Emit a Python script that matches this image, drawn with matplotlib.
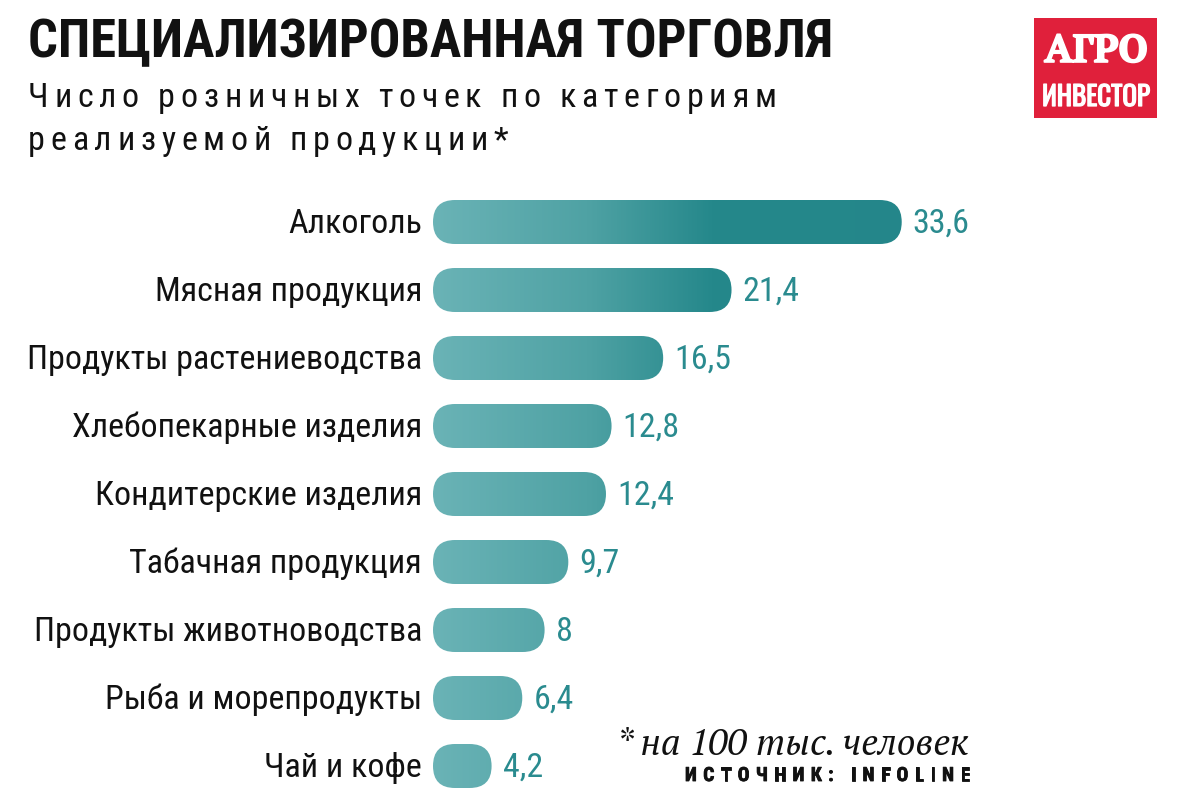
import matplotlib
matplotlib.use("Agg")
import matplotlib.pyplot as plt
import matplotlib.patheffects as pe
import numpy as np
from matplotlib import font_manager as fm
from matplotlib.patches import FancyBboxPatch, Rectangle
from matplotlib.colors import LinearSegmentedColormap
from matplotlib.transforms import offset_copy
from matplotlib.ft2font import LOAD_NO_HINTING

# ---------------- data ----------------
categories = ["Алкоголь", "Мясная продукция", "Продукты растениеводства",
              "Хлебопекарные изделия", "Кондитерские изделия", "Табачная продукция",
              "Продукты животноводства", "Рыба и морепродукты", "Чай и кофе"]
values = [33.6, 21.4, 16.5, 12.8, 12.4, 9.7, 8.0, 6.4, 4.2]

title = "СПЕЦИАЛИЗИРОВАННАЯ ТОРГОВЛЯ"
subtitle_lines = ["Число розничных точек по категориям", "реализуемой продукции*"]
footnote = "* на 100 тыс. человек"
source = "ИСТОЧНИК: INFOLINE"
logo_top = "АГРО"
logo_bottom = "ИНВЕСТОР"

# ---------------- fonts ----------------
available = {f.name for f in fm.fontManager.ttflist}
def pick(cands):
    for c in cands:
        if c in available:
            return c
    return "DejaVu Sans"

COND = pick(["Roboto Condensed", "Fira Sans Extra Condensed", "IBM Plex Sans Condensed",
             "PT Sans Narrow", "Open Sans Condensed", "DejaVu Sans"])
TIGHT = pick(["Oswald", "Fira Sans Extra Condensed", "Roboto Condensed", "PT Sans Narrow"])
SLAB = pick(["PT Serif", "Liberation Serif", "DejaVu Serif"])
SERIF_IT = pick(["PT Serif", "Liberation Serif", "DejaVu Serif"])

W, H = 1179, 812
fig = plt.figure(figsize=(W / 100, H / 100), dpi=100)
fig.patch.set_facecolor("white")

def fx(px):
    return px / W
def fy(py):
    return 1 - py / H

def advance(ch, prop):
    font = fm.get_font(fm.findfont(prop))
    font.set_size(prop.get_size_in_points(), fig.dpi)
    g = font.load_char(ord(ch), flags=LOAD_NO_HINTING)
    return g.linearHoriAdvance / 65536.0

def tracked(text, x0, y0, prop, color, x_end=None, tracking=0.0, effects=None):
    advs = [advance(c, prop) for c in text]
    if x_end is not None:
        tracking = (x_end - x0 - sum(advs)) / (len(text) - 1)
    x = x0
    for c, a in zip(text, advs):
        if c != " ":
            t = fig.text(fx(x), fy(y0), c, fontproperties=prop, color=color,
                         ha="left", va="baseline")
            if effects:
                t.set_path_effects(effects)
        x += a + tracking

# ---------------- title ----------------
tprop = fm.FontProperties(family=COND, weight="bold", size=37.8)
fig.text(fx(28), fy(57), title, fontproperties=tprop, color="#111111",
         ha="left", va="baseline")

sprop = fm.FontProperties(family=COND, weight="normal", size=24.5)
advs1 = [advance(c, sprop) for c in subtitle_lines[0]]
trk = (776 - 28 - sum(advs1)) / (len(subtitle_lines[0]) - 1)
tracked(subtitle_lines[0], 28, 107, sprop, "#111111", tracking=trk)
tracked(subtitle_lines[1], 28, 150, sprop, "#111111", tracking=trk)

# ---------------- logo ----------------
fig.patches.append(Rectangle((fx(1034), fy(119)), fx(1157) - fx(1034), fy(19) - fy(119),
                             transform=fig.transFigure, facecolor="#e0203b",
                             edgecolor="none"))
fig.text(fx(1096), fy(63), logo_top,
         fontproperties=fm.FontProperties(family=SLAB, weight="bold", size=28),
         color="white", ha="center", va="baseline",
         path_effects=[pe.withStroke(linewidth=1.2, foreground="white")])
fig.text(fx(1096), fy(107), logo_bottom,
         fontproperties=fm.FontProperties(family=TIGHT, weight="bold", size=19.5),
         color="white", ha="center", va="baseline",
         path_effects=[pe.withStroke(linewidth=0.9, foreground="white")])

# ---------------- bars ----------------
ax_left, ax_right, ax_top, ax_bottom = 433, 1000, 189, 801
px_per_unit = 13.95
xmax = (ax_right - ax_left) / px_per_unit
n = len(categories)
ax = fig.add_axes([fx(ax_left), fy(ax_bottom), fx(ax_right) - fx(ax_left), fy(ax_top) - fy(ax_bottom)])
ax.set_xlim(0, xmax)
ax.set_ylim(n - 0.5, -0.5)
ax.axis("off")

px_per_y = (ax_bottom - ax_top) / n
bar_h = 44 / px_per_y
m_aspect = (1 / px_per_y) / (1 / px_per_unit)
r = 0.5 * bar_h / m_aspect * 0.999

grad_end = 20.0
g1 = grad_end / xmax
cmap = LinearSegmentedColormap.from_list(
    "teal", [(0.0, "#6ab3b6"), (0.55 * g1, "#4fa2a4"), (g1, "#25888b"), (1.0, "#24868a")])
grad_x = np.linspace(0, 1, 600)[None, :]

lprop = fm.FontProperties(family=COND, weight="normal", size=24.5)
for i, (cat, v) in enumerate(zip(categories, values)):
    patch = FancyBboxPatch((0, i - bar_h / 2), v, bar_h,
                           boxstyle=f"round,pad=0,rounding_size={r}",
                           mutation_aspect=m_aspect, facecolor="none",
                           edgecolor="none", transform=ax.transData)
    ax.add_patch(patch)
    im = ax.imshow(grad_x, extent=[0, xmax, i + 0.5, i - 0.5], aspect="auto",
                   cmap=cmap, interpolation="bilinear", zorder=1)
    im.set_clip_path(patch)
    lab = (f"{v:.1f}".replace(".", ",")) if v != int(v) else f"{int(v)}"
    ax.text(v, i, lab, transform=offset_copy(ax.transData, fig, x=11, y=-10, units="dots"),
            fontproperties=lprop, color="#2a8b8f", ha="left", va="baseline", clip_on=False)
    ax.text(0, i, cat, transform=offset_copy(ax.transData, fig, x=-11, y=-10, units="dots"),
            fontproperties=lprop, color="#111111", ha="right", va="baseline", clip_on=False)

ax.set_xlim(0, xmax)
ax.set_ylim(n - 0.5, -0.5)

# ---------------- footnote & source ----------------
fig.text(fx(969), fy(755), footnote,
         fontproperties=fm.FontProperties(family=SERIF_IT, style="italic", size=26.5),
         color="#111111", ha="right", va="baseline")
srcprop = fm.FontProperties(family=COND, weight="bold", size=14)
tracked(source, 685, 782, srcprop, "#111111", x_end=970,
        effects=[pe.withStroke(linewidth=0.6, foreground="#111111")])

fig.savefig("out.png", dpi=100, facecolor="white")
